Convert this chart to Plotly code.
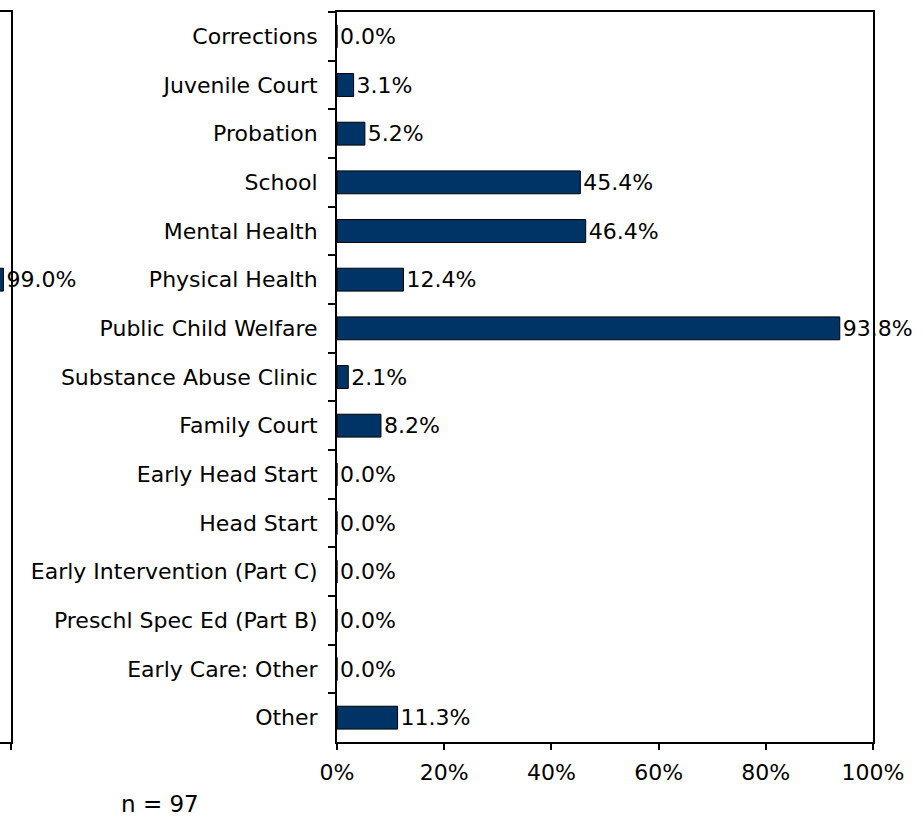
import plotly.graph_objects as go

# Main panel: share of cases with each agency involved
AGENCIES = [
    "Corrections",
    "Juvenile Court",
    "Probation",
    "School",
    "Mental Health",
    "Physical Health",
    "Public Child Welfare",
    "Substance Abuse Clinic",
    "Family Court",
    "Early Head Start",
    "Head Start",
    "Early Intervention (Part C)",
    "Preschl Spec Ed (Part B)",
    "Early Care: Other",
    "Other",
]
PCT = [0.0, 3.1, 5.2, 45.4, 46.4, 12.4, 93.8, 2.1, 8.2, 0.0, 0.0, 0.0, 0.0, 0.0, 11.3]

# Neighbouring panel, only its right edge is in view
LEFT_PANEL_CATS = ["Physical Health"]
LEFT_PANEL_PCT = [99.0]

N_LABEL = "n = 97"
X_TICKS = [0, 20, 40, 60, 80, 100]
X_TICK_TEXT = ["0%", "20%", "40%", "60%", "80%", "100%"]

W, H = 923, 820
FONT = "DejaVu Sans"
FS = 22
BAR_FILL = "#003366"

fig = go.Figure()

bar_style = dict(
    orientation="h",
    marker=dict(color=BAR_FILL, line=dict(color="#000000", width=1)),
    texttemplate="%{x:.1f}%",
    textposition="outside",
    constraintext="none",
    textfont=dict(family=FONT, size=FS, color="#000000"),
    cliponaxis=False,
    showlegend=False,
    hoverinfo="skip",
)

fig.add_trace(go.Bar(x=PCT, y=AGENCIES, xaxis="x", yaxis="y", **bar_style))
fig.add_trace(go.Bar(x=LEFT_PANEL_PCT, y=LEFT_PANEL_CATS, xaxis="x2", yaxis="y2", **bar_style))

axis_common = dict(
    showgrid=False,
    zeroline=False,
    showline=True,
    automargin=False,
    linecolor="#000000",
    linewidth=2,
    tickcolor="#000000",
    tickwidth=2,
    tickfont=dict(family=FONT, size=FS, color="#000000"),
)

n_cat = len(AGENCIES)

fig.update_layout(
    width=W,
    height=H,
    paper_bgcolor="white",
    plot_bgcolor="white",
    font=dict(family=FONT, size=FS, color="#000000"),
    margin=dict(l=0, r=0, t=12, b=78, autoexpand=False),
    bargap=0.53,
    xaxis=dict(
        **axis_common,
        domain=[337 / W, 873 / W],
        range=[0, 100],
        tickmode="array",
        tickvals=X_TICKS,
        ticktext=X_TICK_TEXT,
        ticks="outside",
        ticklen=6,
        ticklabelstandoff=4,
        mirror=True,
        anchor="y",
    ),
    yaxis=dict(
        **axis_common,
        categoryorder="array",
        categoryarray=AGENCIES,
        range=[n_cat - 0.5, -0.5],
        ticks="outside",
        ticklen=7,
        tickson="boundaries",
        mirror=True,
        anchor="x",
        ticklabelstandoff=13,
    ),
    xaxis2=dict(
        **axis_common,
        domain=[0, 11 / W],
        range=[98.55, 100],
        tickmode="array",
        tickvals=X_TICKS,
        ticktext=X_TICK_TEXT,
        ticks="outside",
        ticklen=6,
        ticklabelstandoff=4,
        mirror=True,
        anchor="y2",
    ),
    yaxis2=dict(
        **axis_common,
        categoryorder="array",
        categoryarray=AGENCIES,
        range=[n_cat - 0.5, -0.5],
        side="right",
        showticklabels=False,
        ticks="",
        anchor="x2",
    ),
    annotations=[
        dict(
            text=N_LABEL,
            xref="paper",
            yref="paper",
            x=160 / W,
            y=-62 / 730,
            xanchor="center",
            yanchor="middle",
            showarrow=False,
            font=dict(family=FONT, size=23, color="#000000"),
        )
    ],
)

# the page's default body margin would shift the figure by 8px
fig.write_html(
    "out.html",
    config={"displayModeBar": False},
    post_script="document.body.style.margin = '0';",
)
